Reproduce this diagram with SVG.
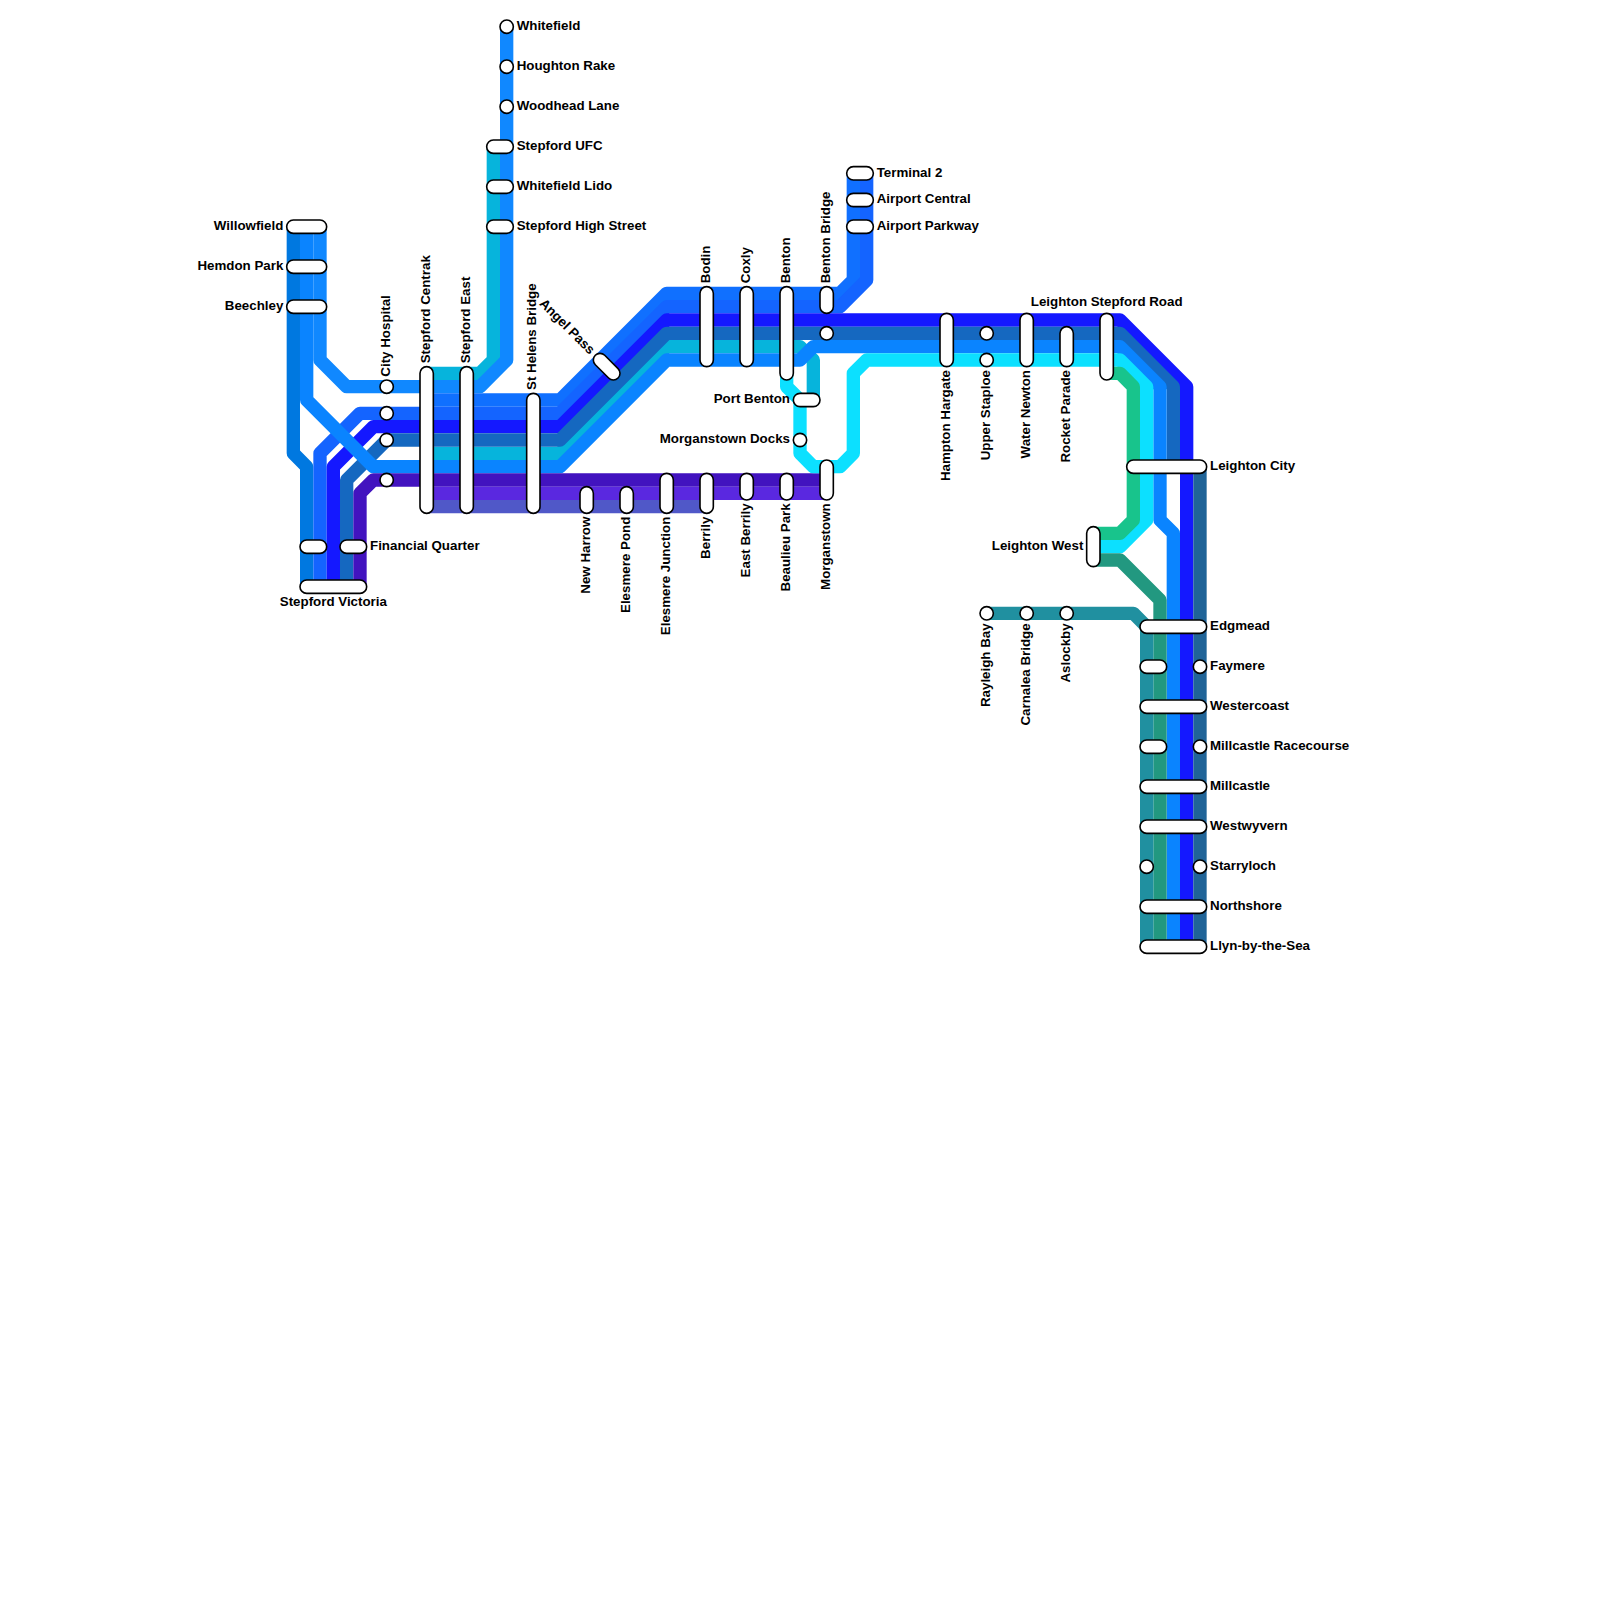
<svg xmlns="http://www.w3.org/2000/svg" width="1600" height="1600" viewBox="0 0 1600 1600">
<style>
.l{fill:none;stroke-width:13.33;stroke-linejoin:round;stroke-linecap:butt}
.s{fill:#fff;stroke:#000;stroke-width:1.6}
text{font-family:"Liberation Sans",Arial,sans-serif;font-weight:700;font-size:13.33px;fill:#000}
.e{text-anchor:end}
.m{text-anchor:middle}
</style>
<rect width="1600" height="1600" fill="#fff"/>
<g id="connectors">
<path class="l" stroke="#06b4dc" d="M493.33 146.67V360L480 373.33H426.67"/>
<path class="l" stroke="#1088ff" d="M506.67 26.67V360L480 386.67H346.67L320 360V226.67"/>
<path class="l" stroke="#0078e0" d="M293.33 226.67V453.33L306.67 466.67V586.67"/>
<path class="l" stroke="#1070ff" d="M853.33 173.33V280L840 293.33H666.67L560 400H426.67"/>
<path class="l" stroke="#1464ff" d="M866.67 173.33V280L840 306.67H666.67L560 413.33H360L320 453.33V586.67"/>
<path class="l" stroke="#1418ff" d="M1186.67 946.67V386.67L1120 320H666.67L560 426.67H373.33L333.33 466.67V586.67"/>
<path class="l" stroke="#06b4dc" d="M426.67 453.33H560L666.67 346.67H800L813.33 360V400"/>
<path class="l" stroke="#1568c0" d="M1173.33 466.67V386.67L1120 333.33H666.67L560 440H386.67L346.67 480V586.67"/>
<path class="l" stroke="#0a84ff" d="M306.67 226.67V400L373.33 466.67H560L666.67 360H800L813.33 346.67H1120L1160 386.67V520L1173.33 533.33V946.67"/>
<path class="l" stroke="#206498" d="M1200 466.67V946.67"/>
<path class="l" stroke="#4213bf" d="M360 586.67V493.33L373.33 480H826.67"/>
<path class="l" stroke="#5a28e0" d="M426.67 493.33H826.67"/>
<path class="l" stroke="#5058c8" d="M426.67 506.67H706.67"/>
<path class="l" stroke="#0ce0ff" d="M786.67 373.33V386.67L800 400V453.33L813.33 466.67H840L853.33 453.33V373.33L866.67 360H1120L1146.67 386.67V520L1120 546.67H1093.33"/>
<path class="l" stroke="#18c48c" d="M1106.67 373.33H1120L1133.33 386.67V520L1120 533.33H1093.33"/>
<path class="l" stroke="#229880" d="M1093.33 560H1120L1160 600V946.67"/>
<path class="l" stroke="#2090a0" d="M986.67 613.33H1133.33L1146.67 626.67V946.67"/>
</g>
<g id="n-whitefield"><circle class="s" cx="506.67" cy="26.67" r="6.67"/><text x="516.67" y="30">Whitefield</text></g>
<g id="n-houghton-rake"><circle class="s" cx="506.67" cy="66.67" r="6.67"/><text x="516.67" y="70">Houghton Rake</text></g>
<g id="n-woodhead-lane"><circle class="s" cx="506.67" cy="106.67" r="6.67"/><text x="516.67" y="110">Woodhead Lane</text></g>
<g id="n-stepford-ufc"><rect class="s" x="486.67" y="140" width="26.67" height="13.33" rx="6.67"/><text x="516.67" y="150">Stepford UFC</text></g>
<g id="n-whitefield-lido"><rect class="s" x="486.67" y="180" width="26.67" height="13.33" rx="6.67"/><text x="516.67" y="189.5">Whitefield Lido</text></g>
<g id="n-stepford-high-street"><rect class="s" x="486.67" y="220" width="26.67" height="13.33" rx="6.67"/><text x="516.67" y="230">Stepford High Street</text></g>
<g id="n-terminal-2"><rect class="s" x="846.67" y="166.67" width="26.67" height="13.33" rx="6.67"/><text x="876.67" y="176.7">Terminal 2</text></g>
<g id="n-airport-central"><rect class="s" x="846.67" y="193.33" width="26.67" height="13.33" rx="6.67"/><text x="876.67" y="203">Airport Central</text></g>
<g id="n-airport-parkway"><rect class="s" x="846.67" y="220" width="26.67" height="13.33" rx="6.67"/><text x="876.67" y="230">Airport Parkway</text></g>
<g id="n-willowfield"><rect class="s" x="286.67" y="220" width="40" height="13.33" rx="6.67"/><text class="e" x="283.33" y="230">Willowfield</text></g>
<g id="n-hemdon-park"><rect class="s" x="286.67" y="260" width="40" height="13.33" rx="6.67"/><text class="e" x="283.33" y="270">Hemdon Park</text></g>
<g id="n-beechley"><rect class="s" x="286.67" y="300" width="40" height="13.33" rx="6.67"/><text class="e" x="283.33" y="310">Beechley</text></g>
<g id="n-city-hospital"><circle class="s" cx="386.67" cy="386.67" r="6.67"/><circle class="s" cx="386.67" cy="413.33" r="6.67"/><circle class="s" cx="386.67" cy="440" r="6.67"/><circle class="s" cx="386.67" cy="480" r="6.67"/><text transform="translate(389.5 376.67) rotate(-90)">City Hospital</text></g>
<g id="n-stepford-centrak"><rect class="s" x="420" y="366.67" width="13.33" height="146.67" rx="6.67"/><text transform="translate(429.5 363.33) rotate(-90)">Stepford Centrak</text></g>
<g id="n-stepford-east"><rect class="s" x="460" y="366.67" width="13.33" height="146.67" rx="6.67"/><text transform="translate(469.5 363.33) rotate(-90)">Stepford East</text></g>
<g id="n-st-helens-bridge"><rect class="s" x="526.67" y="393.33" width="13.33" height="120" rx="6.67"/><text transform="translate(536.2 390) rotate(-90)">St Helens Bridge</text></g>
<g id="n-angel-pass"><rect class="s" x="590.57" y="360" width="32.2" height="13.33" rx="6.67" transform="rotate(45 606.67 366.67)"/><text class="e" transform="translate(589.5 355) rotate(45)">Angel Pass</text></g>
<g id="n-bodin"><rect class="s" x="700" y="286.67" width="13.33" height="80" rx="6.67"/><text transform="translate(709.5 283.33) rotate(-90)">Bodin</text></g>
<g id="n-coxly"><rect class="s" x="740" y="286.67" width="13.33" height="80" rx="6.67"/><text transform="translate(749.5 283.33) rotate(-90)">Coxly</text></g>
<g id="n-benton"><rect class="s" x="780" y="286.67" width="13.33" height="93.33" rx="6.67"/><text transform="translate(789.5 283.33) rotate(-90)">Benton</text></g>
<g id="n-benton-bridge"><rect class="s" x="820" y="286.67" width="13.33" height="26.67" rx="6.67"/><circle class="s" cx="826.67" cy="333.33" r="6.67"/><text transform="translate(829.5 283.33) rotate(-90)">Benton Bridge</text></g>
<g id="n-port-benton"><rect class="s" x="793.33" y="393.33" width="26.67" height="13.33" rx="6.67"/><text class="e" x="790" y="402.8">Port Benton</text></g>
<g id="n-morganstown-docks"><circle class="s" cx="800" cy="440" r="6.67"/><text class="e" x="790" y="442.8">Morganstown Docks</text></g>
<g id="n-morganstown"><rect class="s" x="820" y="460" width="13.33" height="40" rx="6.67"/><text class="e" transform="translate(829.5 503.33) rotate(-90)">Morganstown</text></g>
<g id="n-new-harrow"><rect class="s" x="580" y="486.67" width="13.33" height="26.67" rx="6.67"/><text class="e" transform="translate(589.5 516.67) rotate(-90)">New Harrow</text></g>
<g id="n-elesmere-pond"><rect class="s" x="620" y="486.67" width="13.33" height="26.67" rx="6.67"/><text class="e" transform="translate(629.5 516.67) rotate(-90)">Elesmere Pond</text></g>
<g id="n-elesmere-junction"><rect class="s" x="660" y="473.33" width="13.33" height="40" rx="6.67"/><text class="e" transform="translate(669.5 516.67) rotate(-90)">Elesmere Junction</text></g>
<g id="n-berrily"><rect class="s" x="700" y="473.33" width="13.33" height="40" rx="6.67"/><text class="e" transform="translate(709.5 516.67) rotate(-90)">Berrily</text></g>
<g id="n-east-berrily"><rect class="s" x="740" y="473.33" width="13.33" height="26.67" rx="6.67"/><text class="e" transform="translate(749.5 503.33) rotate(-90)">East Berrily</text></g>
<g id="n-beaulieu-park"><rect class="s" x="780" y="473.33" width="13.33" height="26.67" rx="6.67"/><text class="e" transform="translate(789.5 503.33) rotate(-90)">Beaulieu Park</text></g>
<g id="n-hampton-hargate"><rect class="s" x="940" y="313.33" width="13.33" height="53.33" rx="6.67"/><text class="e" transform="translate(949.5 370) rotate(-90)">Hampton Hargate</text></g>
<g id="n-upper-staploe"><circle class="s" cx="986.67" cy="333.33" r="6.67"/><circle class="s" cx="986.67" cy="360" r="6.67"/><text class="e" transform="translate(989.5 370) rotate(-90)">Upper Staploe</text></g>
<g id="n-water-newton"><rect class="s" x="1020" y="313.33" width="13.33" height="53.33" rx="6.67"/><text class="e" transform="translate(1029.5 370) rotate(-90)">Water Newton</text></g>
<g id="n-rocket-parade"><rect class="s" x="1060" y="326.67" width="13.33" height="40" rx="6.67"/><text class="e" transform="translate(1069.5 370) rotate(-90)">Rocket Parade</text></g>
<g id="n-leighton-stepford-road"><rect class="s" x="1100" y="313.33" width="13.33" height="66.67" rx="6.67"/><text class="m" x="1106.67" y="305.5">Leighton Stepford Road</text></g>
<g id="n-leighton-city"><rect class="s" x="1126.67" y="460" width="80" height="13.33" rx="6.67"/><text x="1210" y="470">Leighton City</text></g>
<g id="n-leighton-west"><rect class="s" x="1086.67" y="526.67" width="13.33" height="40" rx="6.67"/><text class="e" x="1083.33" y="550">Leighton West</text></g>
<g id="n-rayleigh-bay"><circle class="s" cx="986.67" cy="613.33" r="6.67"/><text class="e" transform="translate(989.5 623.33) rotate(-90)">Rayleigh Bay</text></g>
<g id="n-carnalea-bridge"><circle class="s" cx="1026.67" cy="613.33" r="6.67"/><text class="e" transform="translate(1029.5 623.33) rotate(-90)">Carnalea Bridge</text></g>
<g id="n-aslockby"><circle class="s" cx="1066.67" cy="613.33" r="6.67"/><text class="e" transform="translate(1069.5 623.33) rotate(-90)">Aslockby</text></g>
<g id="n-edgmead"><rect class="s" x="1140" y="620" width="66.67" height="13.33" rx="6.67"/><text x="1210" y="630">Edgmead</text></g>
<g id="n-faymere"><rect class="s" x="1140" y="660" width="26.67" height="13.33" rx="6.67"/><circle class="s" cx="1200" cy="666.67" r="6.67"/><text x="1210" y="670">Faymere</text></g>
<g id="n-westercoast"><rect class="s" x="1140" y="700" width="66.67" height="13.33" rx="6.67"/><text x="1210" y="710">Westercoast</text></g>
<g id="n-millcastle-racecourse"><rect class="s" x="1140" y="740" width="26.67" height="13.33" rx="6.67"/><circle class="s" cx="1200" cy="746.67" r="6.67"/><text x="1210" y="750">Millcastle Racecourse</text></g>
<g id="n-millcastle"><rect class="s" x="1140" y="780" width="66.67" height="13.33" rx="6.67"/><text x="1210" y="790">Millcastle</text></g>
<g id="n-westwyvern"><rect class="s" x="1140" y="820" width="66.67" height="13.33" rx="6.67"/><text x="1210" y="830">Westwyvern</text></g>
<g id="n-starryloch"><circle class="s" cx="1146.67" cy="866.67" r="6.67"/><circle class="s" cx="1200" cy="866.67" r="6.67"/><text x="1210" y="870">Starryloch</text></g>
<g id="n-northshore"><rect class="s" x="1140" y="900" width="66.67" height="13.33" rx="6.67"/><text x="1210" y="910">Northshore</text></g>
<g id="n-llyn-by-the-sea"><rect class="s" x="1140" y="940" width="66.67" height="13.33" rx="6.67"/><text x="1210" y="950">Llyn-by-the-Sea</text></g>
<g id="n-financial-quarter"><rect class="s" x="300" y="540" width="26.67" height="13.33" rx="6.67"/><rect class="s" x="340" y="540" width="26.67" height="13.33" rx="6.67"/><text x="370" y="549.5">Financial Quarter</text></g>
<g id="n-stepford-victoria"><rect class="s" x="300" y="580" width="66.67" height="13.33" rx="6.67"/><text class="m" x="333.33" y="605.5">Stepford Victoria</text></g>
</svg>
